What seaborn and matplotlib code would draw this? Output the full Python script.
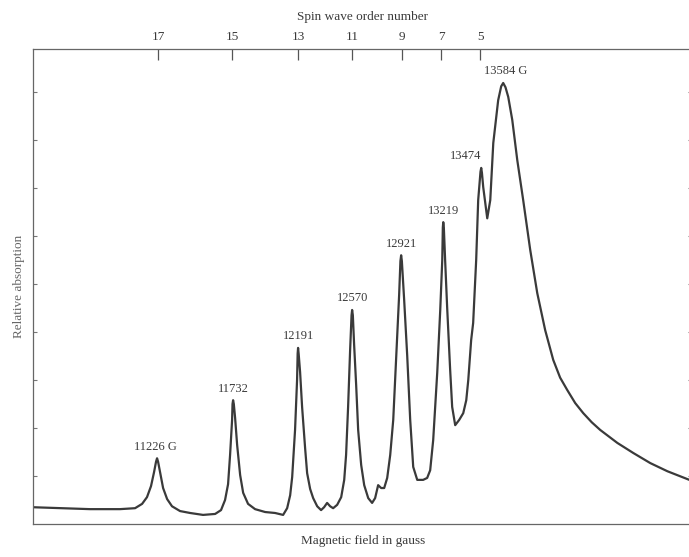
import matplotlib
matplotlib.use("Agg")
import matplotlib.pyplot as plt
import seaborn as sns

# Спин-волновой резонанс: поглощение в зависимости от поля
field_gauss = [
    10363, 10551, 10760, 10968, 11073, 11122, 11156, 11184, 11205, 11219,
    11226, 11233, 11247, 11268, 11296, 11330, 11386, 11456, 11546, 11630,
    11671, 11699, 11720, 11734, 11748, 11751, 11755, 11760, 11769, 11783,
    11804, 11825, 11859, 11908, 11978, 12047, 12103, 12131, 12152, 12166,
    12186, 12200, 12204, 12207, 12211, 12221, 12235, 12256, 12270, 12291,
    12312, 12340, 12367, 12388, 12409, 12430, 12451, 12479, 12507, 12528,
    12541, 12555, 12569, 12579, 12583, 12588, 12597, 12611, 12625, 12646,
    12667, 12695, 12722, 12743, 12764, 12785, 12806, 12827, 12848, 12869,
    12889, 12910, 12919, 12924, 12929, 12945, 12966, 12987, 13008, 13036,
    13077, 13105, 13126, 13147, 13175, 13196, 13210, 13214, 13217, 13221,
    13230, 13244, 13265, 13279, 13300, 13328, 13356, 13377, 13391, 13411,
    13425, 13446, 13460, 13476, 13481, 13486, 13495, 13523, 13544, 13565,
    13599, 13620, 13634, 13650, 13669, 13697, 13732, 13773, 13822, 13871,
    13926, 13982, 14030, 14080, 14135, 14191, 14250, 14309, 14428, 14539,
    14657, 14776, 14929,
]
absorption = [
    0.35, 0.33, 0.31, 0.31, 0.33, 0.42, 0.56, 0.79, 1.08, 1.30,
    1.37, 1.30, 1.08, 0.75, 0.52, 0.37, 0.27, 0.23, 0.19, 0.21,
    0.29, 0.50, 0.83, 1.44, 2.17, 2.50, 2.58, 2.50, 2.21, 1.65,
    1.02, 0.65, 0.42, 0.31, 0.25, 0.23, 0.19, 0.33, 0.60, 0.98,
    1.96, 3.00, 3.55, 3.67, 3.55, 3.17, 2.44, 1.58, 1.06, 0.73,
    0.54, 0.37, 0.29, 0.35, 0.44, 0.37, 0.33, 0.40, 0.56, 0.92,
    1.44, 2.44, 3.62, 4.35, 4.46, 4.35, 3.73, 2.90, 1.96, 1.23,
    0.81, 0.54, 0.44, 0.54, 0.81, 0.75, 0.75, 0.96, 1.44, 2.17,
    3.42, 4.77, 5.48, 5.60, 5.48, 4.67, 3.52, 2.17, 1.19, 0.92,
    0.92, 0.96, 1.12, 1.75, 3.15, 4.46, 5.50, 6.18, 6.29, 6.18,
    5.50, 4.52, 3.21, 2.44, 2.06, 2.17, 2.31, 2.58, 3.00, 3.83,
    4.19, 5.50, 6.75, 7.34, 7.42, 7.32, 7.02, 6.37, 6.75, 7.94,
    8.83, 9.12, 9.19, 9.10, 8.90, 8.42, 7.58, 6.75, 5.71, 4.81,
    4.04, 3.42, 3.05, 2.79, 2.52, 2.31, 2.12, 1.96, 1.69, 1.48,
    1.27, 1.10, 0.92,
]

# Подписи пиков и их положение на кривой
peak_labels = ["11226 G", "11732", "12191", "12570", "12921", "13219", "13474", "13584 G"]
peak_fields = [11226, 11755, 12207, 12583, 12924, 13217, 13481, 13634]
peak_values = [1.37, 2.58, 3.67, 4.46, 5.60, 6.29, 7.42, 9.19]
label_dx = [-1, 0, 0, 0, 0, 0, -11, 2]  # сдвиг подписи в точках

# Верхняя шкала: номера спиновых волн
order_numbers = [17, 15, 13, 11, 9, 7, 5]
order_fields = [11233, 11748, 12207, 12583, 12931, 13203, 13474]

sns.set_style("white")
plt.rcParams["font.family"] = ["Liberation Serif", "DejaVu Serif"]

ink = "#3a3a3a"
fig = plt.figure(figsize=(6.89, 5.57), dpi=100)
ax = fig.add_axes([0.0479, 0.0592, 0.957, 0.853])

sns.lineplot(x=field_gauss, y=absorption, ax=ax, color=ink, linewidth=1.6, sort=False)

for lab, fx, fy, dx in zip(peak_labels, peak_fields, peak_values, label_dx):
    ax.annotate(lab, xy=(fx, fy), xytext=(dx, 4), textcoords="offset points",
                ha="center", va="bottom", fontsize=9, color=ink)

ax.set_xlim(10363, 14950)
ax.set_ylim(0, 9.9)
ax.set_yticks(range(1, 10))
ax.set_xticks([])
ax.tick_params(axis="y", left=True, right=True, direction="in", length=3,
               width=0.8, color="#777777", labelleft=False)
for s in ax.spines.values():
    s.set_color("#666666")
    s.set_linewidth(0.9)

ax.set_xlabel("Magnetic field in gauss", fontsize=9.5, color=ink, labelpad=8)
ax.set_ylabel("Relative absorption", fontsize=9.5, color="#666666", labelpad=6)

top = ax.secondary_xaxis("top")
top.set_xticks(order_fields)
top.set_xticklabels([str(n) for n in order_numbers])
top.tick_params(direction="in", length=8, width=0.9, color="#555555",
                labelsize=9.5, labelcolor=ink, pad=4)
top.spines["top"].set_visible(False)
top.set_xlabel("Spin wave order number", fontsize=9.5, color=ink, labelpad=8)

fig.savefig("out.png", dpi=100)
